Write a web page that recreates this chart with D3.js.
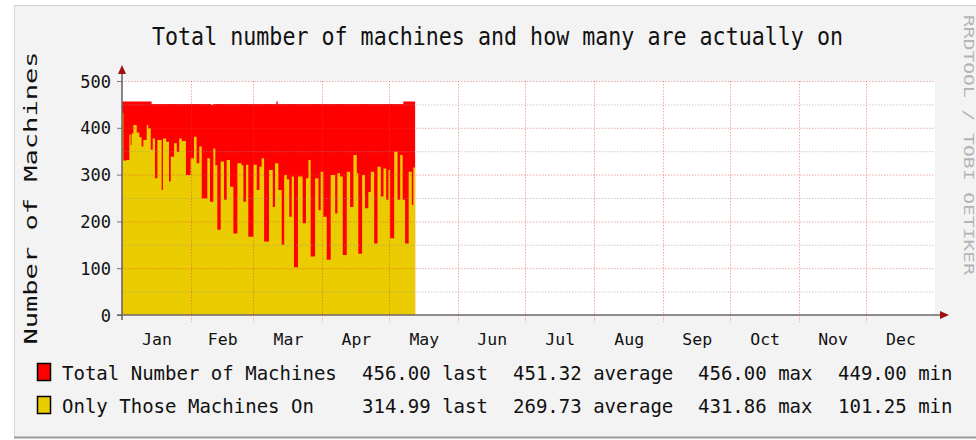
<!DOCTYPE html>
<html>
<head>
<meta charset="utf-8">
<script src="https://cdn.jsdelivr.net/npm/d3@7"></script>
<style>
  html, body { margin: 0; padding: 0; background: #fff; }
  svg { display: block; }
  text { font-family: "DejaVu Sans Mono", monospace; fill: #111; }
</style>
</head>
<body>
<svg width="976" height="440"></svg>
<script>
/* global d3 */

const title = 'Total number of machines and how many are actually on';
const yLabel = 'Number of Machines';
const watermark = 'RRDTOOL / TOBI OETIKER';
const months = ['Jan', 'Feb', 'Mar', 'Apr', 'May', 'Jun', 'Jul', 'Aug', 'Sep', 'Oct', 'Nov', 'Dec'];
const yMajor = [0, 100, 200, 300, 400, 500];
const yMinor = [50, 150, 250, 350, 450];

// days since Jan 1 where a new step starts
const totalDays = [0, 13.3, 40.0, 41.0, 69.3, 69.9, 126.3, 131.6];
const totalValues = [456, 451, 449, 451, 456, 451, 456, 456];

const onDays = [0, 0.6, 2.1, 3.3, 3.9, 4.3, 5.1, 6.6, 7.8, 8.8, 9.6, 11.1, 11.8, 12.9, 13.8, 14.8,
  15.9, 17.8, 18.4, 19.8, 21.1, 21.9, 23.4, 24.6, 25.7, 26.8, 28.7, 30.8, 32.3, 33.5, 34.7, 35.8,
  38.3, 39.5, 41.0, 41.9, 42.8, 44.3, 45.8, 47.0, 48.5, 50.0, 51.8, 53.7, 54.5, 55.7, 56.7, 59.0,
  60.5, 61.7, 62.7, 63.8, 66.0, 67.7, 68.7, 70.2, 71.7, 72.8, 74.0, 75.1, 76.2, 77.2, 79.0, 81.1,
  82.6, 83.7, 84.7, 86.7, 88.2, 89.2, 90.4, 91.9, 93.7, 95.7, 96.7, 97.9, 99.1, 100.9, 102.4,
  103.9, 105.4, 106.1, 107.8, 109.1, 110.6, 111.7, 113.2, 114.7, 116.2, 117.4, 118.6, 119.6,
  120.4, 122.2, 123.7, 124.9, 126.0, 127.1, 128.7, 130.1, 130.8, 131.6];
const onValues = [432, 330, 331, 385, 363, 388, 406, 390, 380, 360, 374, 406, 399, 353, 377, 292,
  374, 267, 377, 370, 285, 338, 367, 349, 377, 372, 299, 335, 381, 324, 360, 249,
  335, 242, 356, 320, 182, 328, 246, 331, 274, 174, 324, 320, 242, 321, 167, 321,
  267, 317, 335, 157, 310, 231, 324, 267, 150, 299, 290, 210, 296, 102, 296, 196,
  292, 331, 125, 292, 224, 306, 210, 118, 299, 217, 303, 296, 128, 306, 231,
  342, 303, 131, 299, 228, 263, 306, 153, 317, 253, 313, 246, 310,
  164, 349, 246, 342, 246, 153, 306, 235, 315, 315];

const legendNames = ['Total Number of Machines', 'Only Those Machines On'];
const legendColors = ['#ff0000', '#eacc00'];
const legendLast = [456.00, 314.99];
const legendAverage = [451.32, 269.73];
const legendMax = [456.00, 431.86];
const legendMin = [449.00, 101.25];

const plot = { left: 122, right: 935, top: 81, bottom: 315 };
const yearStart = Date.UTC(2011, 0, 1);
const dayMs = 864e5;
const fmt = d3.format('.2f');

const svg = d3.select('svg');

const x = d3.scaleUtc()
  .domain([new Date(yearStart), new Date(Date.UTC(2012, 0, 1))])
  .range([plot.left, plot.right]);
const y = d3.scaleLinear().domain([0, 500]).range([plot.bottom, plot.top]);

const toSeries = (days, values) => days.map((d, i) => ({ date: new Date(yearStart + d * dayMs), v: values[i] }));
const totalSeries = toSeries(totalDays, totalValues);
const onSeries = toSeries(onDays, onValues);

// panel + frame
svg.append('rect').attr('x', 14).attr('y', 5).attr('width', 962).attr('height', 433).attr('fill', '#f3f3f3');
svg.append('line').attr('x1', 14).attr('x2', 976).attr('y1', 5.5).attr('y2', 5.5).attr('stroke', '#cfcfcf');
svg.append('line').attr('x1', 14.5).attr('x2', 14.5).attr('y1', 5).attr('y2', 438).attr('stroke', '#d4d4d4');
svg.append('line').attr('x1', 14).attr('x2', 976).attr('y1', 437.5).attr('y2', 437.5)
  .attr('stroke', '#9a9a9a').attr('stroke-width', 2);

svg.append('rect')
  .attr('x', plot.left).attr('y', plot.top)
  .attr('width', plot.right - plot.left).attr('height', plot.bottom - plot.top)
  .attr('fill', '#fff');

const area = d3.area()
  .curve(d3.curveStepAfter)
  .x(d => x(d.date))
  .y0(y(0))
  .y1(d => y(d.v));

svg.append('path').datum(totalSeries).attr('d', area).attr('fill', legendColors[0]);
svg.append('path').datum(onSeries).attr('d', area).attr('fill', legendColors[1]);

// grid, drawn over the areas like rrdtool does
const grid = svg.append('g').attr('fill', 'none').attr('stroke-dasharray', '1.5,1.5');
grid.selectAll('.minor').data(yMinor).enter().append('line')
  .attr('x1', plot.left).attr('x2', plot.right)
  .attr('y1', d => y(d) + 0.5).attr('y2', d => y(d) + 0.5)
  .attr('stroke', '#999').attr('stroke-opacity', 0.5);
grid.selectAll('.major').data(yMajor.slice(1)).enter().append('line')
  .attr('x1', plot.left).attr('x2', plot.right)
  .attr('y1', d => y(d) + 0.5).attr('y2', d => y(d) + 0.5)
  .attr('stroke', '#e04040').attr('stroke-opacity', 0.45);
grid.selectAll('.vmajor').data(d3.utcMonths(new Date(yearStart + dayMs), new Date(Date.UTC(2011, 11, 31)))).enter().append('line')
  .attr('x1', d => Math.round(x(d)) + 0.5).attr('x2', d => Math.round(x(d)) + 0.5)
  .attr('y1', plot.top).attr('y2', plot.bottom + 7)
  .attr('stroke', '#e04040').attr('stroke-opacity', 0.45);

// axes
const monthMids = d3.utcMonths(new Date(yearStart), new Date(Date.UTC(2012, 0, 1)))
  .map(m => new Date((+m + +d3.utcMonth.offset(m, 1)) / 2));

const xAxis = svg.append('g')
  .attr('transform', `translate(0,${plot.bottom})`)
  .call(d3.axisBottom(x).tickValues(monthMids).tickFormat((d, i) => months[i]).tickSize(0).tickPadding(18));
xAxis.select('.domain').remove();
xAxis.selectAll('text').attr('font-family', '"DejaVu Sans Mono", monospace').attr('font-size', 16.5).attr('fill', '#111');

const yAxis = svg.append('g')
  .attr('transform', `translate(${plot.left},0)`)
  .call(d3.axisLeft(y).tickValues(yMajor).tickSize(5).tickPadding(6));
yAxis.select('.domain').remove();
yAxis.selectAll('line').attr('stroke', '#777');
yAxis.selectAll('text')
  .attr('font-family', '"DejaVu Sans Mono", monospace').attr('font-size', 17).attr('fill', '#111')
  .attr('dy', '0.36em');

const axisColor = '#6f6666';
const arrowColor = '#a01010';
svg.append('line').attr('x1', plot.left - 5).attr('x2', plot.right + 6)
  .attr('y1', plot.bottom).attr('y2', plot.bottom).attr('stroke', axisColor).attr('stroke-width', 1.6);
svg.append('line').attr('x1', plot.left).attr('x2', plot.left)
  .attr('y1', plot.bottom + 5).attr('y2', plot.top - 8).attr('stroke', axisColor).attr('stroke-width', 1.6);
svg.append('path')
  .attr('d', `M${plot.right + 5},${plot.bottom - 4}L${plot.right + 14},${plot.bottom}L${plot.right + 5},${plot.bottom + 4}Z`)
  .attr('fill', arrowColor);
svg.append('path')
  .attr('d', `M${plot.left - 4},${plot.top - 7}L${plot.left},${plot.top - 16}L${plot.left + 4},${plot.top - 7}Z`)
  .attr('fill', arrowColor);

// titles
svg.append('text')
  .attr('x', 497.5).attr('y', 45)
  .attr('text-anchor', 'middle')
  .attr('font-size', 25)
  .attr('textLength', 691).attr('lengthAdjust', 'spacingAndGlyphs')
  .text(title);

svg.append('text')
  .attr('transform', 'translate(37,198) rotate(-90)')
  .attr('text-anchor', 'middle')
  .attr('font-size', 18.5)
  .attr('textLength', 293).attr('lengthAdjust', 'spacingAndGlyphs')
  .text(yLabel);

svg.append('text')
  .attr('transform', 'translate(964,15) rotate(90)')
  .attr('font-size', 13.5)
  .attr('textLength', 260).attr('lengthAdjust', 'spacingAndGlyphs')
  .style('fill', '#b4b4b4')
  .text(watermark);

// legend
const charW = 11.45;
const legendRows = legendNames.map((name, i) => ({
  name,
  color: legendColors[i],
  parts: [
    { x: 62, s: name },
    { x: 362, s: `${fmt(legendLast[i])} last` },
    { x: 513, s: `${fmt(legendAverage[i])} average` },
    { x: 698, s: `${fmt(legendMax[i])} max` },
    { x: 838, s: `${fmt(legendMin[i])} min` },
  ],
}));

const row = svg.append('g').selectAll('.legend')
  .data(legendRows)
  .enter().append('g')
    .attr('transform', (d, i) => `translate(0,${380 + i * 33})`);

row.append('rect')
  .attr('x', 37.5).attr('y', -16.5)
  .attr('width', 13).attr('height', 17)
  .attr('fill', d => d.color)
  .attr('stroke', '#000').attr('stroke-width', 1.5);

row.selectAll('text')
  .data(d => d.parts)
  .enter().append('text')
    .attr('x', d => d.x)
    .attr('font-size', 19.5)
    .attr('textLength', d => d.s.length * charW)
    .attr('lengthAdjust', 'spacingAndGlyphs')
    .text(d => d.s);
</script>
</body>
</html>
